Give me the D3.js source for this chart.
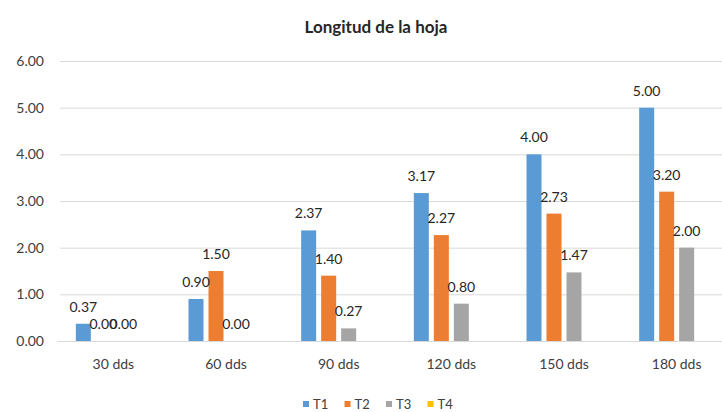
<!DOCTYPE html>
<html>
<head>
<meta charset="utf-8">
<script src="https://cdn.jsdelivr.net/npm/d3@7"></script>
<style>
  html, body { margin: 0; padding: 0; background: #fff; }
  svg { display: block; font-family: Lato, "Open Sans", sans-serif; }
</style>
</head>
<body>
<svg id="chart" width="722" height="412"></svg>
<script>
// Leaf length per sampling date (days after sowing) for four treatments
const categories = ["30 dds", "60 dds", "90 dds", "120 dds", "150 dds", "180 dds"];
const seriesNames = ["T1", "T2", "T3", "T4"];
const t1 = [0.37, 0.90, 2.37, 3.17, 4.00, 5.00];
const t2 = [0.00, 1.50, 1.40, 2.27, 2.73, 3.20];
const t3 = [0.00, 0.00, 0.27, 0.80, 1.47, 2.00];
const t4 = [null, null, null, null, null, null];
const yTicks = [0, 1, 2, 3, 4, 5, 6];
const colors = ["#5B9BD5", "#ED7D31", "#A5A5A5", "#FFC000"];

const seriesValues = [t1, t2, t3, t4];
const svg = d3.select("#chart");
const FONT = "Lato, 'Open Sans', sans-serif";

const x0 = d3.scaleBand().domain(categories).range([57, 733]).padding(0);
const groupWidth = 80;
const x1 = d3.scaleBand().domain(seriesNames)
  .range([-groupWidth / 2, groupWidth / 2])
  .paddingInner(0.25).paddingOuter(0.125);
const y = d3.scaleLinear().domain([0, 6]).range([341, 61]);

// Title
svg.append("text")
  .attr("x", 376).attr("y", 33)
  .attr("text-anchor", "middle")
  .attr("font-size", 17).attr("font-weight", 700)
  .attr("fill", "#262626")
  .text("Longitud de la hoja");

// Gridlines + y axis labels
const yAxis = d3.axisLeft(y).tickValues(yTicks).tickFormat(d3.format(".2f"))
  .tickSize(-(733 - 60)).tickPadding(16);
const gy = svg.append("g").attr("transform", "translate(60,0)").call(yAxis);
gy.select(".domain").remove();
gy.selectAll(".tick line").attr("stroke", "#d9d9d9").attr("stroke-width", 1);
gy.selectAll(".tick text").attr("fill", "#404040").attr("font-size", 14)
  .attr("font-family", FONT);

// Bars
const rows = [];
categories.forEach((c, i) => {
  seriesNames.forEach((s, j) => {
    rows.push({ cat: c, series: s, value: seriesValues[j][i], color: colors[j] });
  });
});
const present = rows.filter(d => d.value !== null);

svg.append("g").selectAll("rect").data(present).join("rect")
  .attr("x", d => x0(d.cat) + x0.bandwidth() / 2 + x1(d.series))
  .attr("y", d => y(d.value))
  .attr("width", x1.bandwidth())
  .attr("height", d => y(0) - y(d.value))
  .attr("fill", d => d.color);

// Value labels
svg.append("g").selectAll("text").data(present).join("text")
  .attr("x", d => x0(d.cat) + x0.bandwidth() / 2 + x1(d.series) + x1.bandwidth() / 2)
  .attr("y", d => y(d.value) - 12)
  .attr("text-anchor", "middle")
  .attr("font-size", 14)
  .attr("fill", "#262626")
  .text(d => d3.format(".2f")(d.value));

// Category labels
const xAxis = d3.axisBottom(x0).tickSize(0).tickPadding(18);
const gx = svg.append("g").attr("transform", "translate(0,341)").call(xAxis);
gx.select(".domain").attr("stroke", "#d9d9d9");
gx.selectAll(".tick text").attr("fill", "#404040").attr("font-size", 14)
  .attr("font-family", FONT);

// Legend
const legend = svg.append("g").attr("transform", "translate(303,404)");
const item = legend.selectAll("g").data(seriesNames).join("g")
  .attr("transform", (d, i) => `translate(${i * 41.5},0)`);
item.append("rect").attr("x", 0).attr("y", -3).attr("width", 6).attr("height", 6)
  .attr("fill", (d, i) => colors[i]);
item.append("text").attr("x", 10).attr("y", 5)
  .attr("font-size", 13).attr("fill", "#404040")
  .text(d => d);
</script>
</body>
</html>
